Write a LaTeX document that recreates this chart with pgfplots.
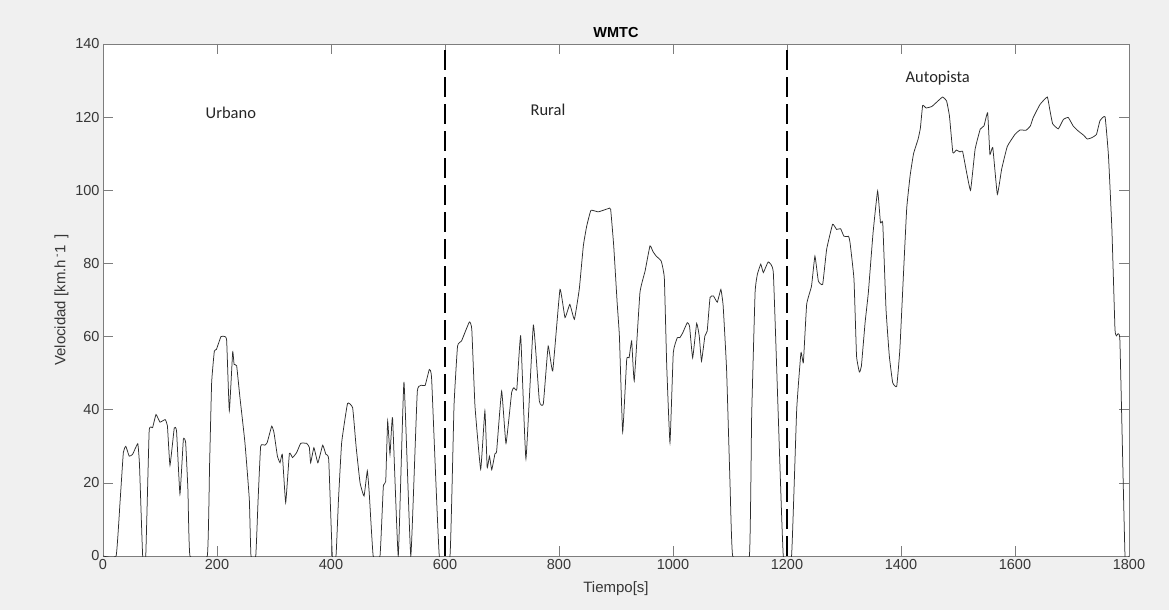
\documentclass[border=0pt]{standalone}
\usepackage{pgfplots}
\pgfplotsset{compat=1.18}
\usepackage{pgfplotstable}
\usepackage{fontspec}
\setmainfont{Liberation Sans}
\newfontfamily\calib{Carlito}
\definecolor{figbg}{RGB}{240,240,240}
\definecolor{axgray}{RGB}{125,125,125}
\definecolor{txtgray}{RGB}{55,55,55}
\definecolor{curve}{RGB}{45,45,45}
\pgfplotstableread{
t v
0 0
23 0
30 15
35.7 28.3
40 30
46 27.3
52 27.8
61 30.7
64 25
69.6 0
75 0
81 34.2
87 35.1
93 38.7
100 36.6
109 37.3
113 35.6
117.5 24.8
125 35
129 34.2
135 16.9
141 31.9
145 31
149 18
152.6 0
183 0
187 25
190.6 47.4
195.3 56
199 56.5
207 60
214 60
217 58.8
221.6 39.7
227.5 55.8
230 52.4
234.5 52
240 43.7
249 31
256.7 15.5
259.6 0
268 0
272 15
276.6 30
284 30.3
288 31
296 35.5
300 33.7
306 27.3
310.6 25.5
314.6 27.8
320.5 14.6
327 28
332.5 26.9
339.8 28.3
346.8 30.8
357.3 30.8
362 29.7
364.3 25.5
370 29.6
377 25.5
385.4 30.3
391 27.8
396 26.4
402.3 0
408.8 0
413 15
418.7 31
429 41.7
438 40.5
444 30
451 20
458 16.4
463.7 23.3
467 17.4
474 0
486 0
491.8 19
496 20.4
499.4 36.9
503.5 27.8
508 37.8
518 0
528 47.6
540 0
551.5 45.1
565 46.6
572.5 51
576.6 48.3
590 0
608.8 0
615.8 41
622 57.4
629 58.8
642.7 64
647 62
652.6 41
662.6 23.7
670 39.7
674 24.2
678 27.3
682 23.6
687.7 28
690.6 28.7
699.4 45.1
707 30.8
717 44.8
721 46
726 45.6
732.8 60.2
742 26.6
755 63.1
765.5 42.4
772.5 41.6
781 57.4
789 50.6
801.7 72.9
810.5 65.2
819 68.8
827 64.7
835.6 73
842.7 84.8
848.6 90.2
856 94.5
869 94.1
886.5 95
890.6 94.8
896 84.8
902 69.3
906 60
911.7 33.9
918.8 53.8
923 54.2
927.5 58.8
932 47.9
942 72
951 77.9
959.6 84.8
965 83.2
970.6 82
979.4 80.6
984.8 76
989 52
994.7 31
1000.5 55.6
1007.6 59.7
1012 59.7
1017 61
1025 63.8
1029 62.9
1034.5 54.2
1041.5 63.6
1046 60.2
1050 53.3
1056 60.2
1060 61.5
1065 70.7
1071 71.1
1077.7 69.4
1084 72.9
1088 68.4
1094 51
1100 20
1104.7 0
1134 0
1138 38.3
1144 72
1148 77
1154 79.8
1158.5 77.5
1167 80.4
1176 77.5
1184.7 38.3
1193.5 0
1208 0
1217 40
1224.5 55.6
1228.7 52.9
1234.5 68.8
1243 73.8
1249 82
1255 75.2
1262.6 74.3
1269.6 83.9
1280 90.7
1287 89.3
1294 89.5
1300 87.4
1308 87.4
1310.5 85.8
1317.5 75.7
1322 54.7
1327 50.3
1330.5 51.9
1337 63.8
1342.7 72
1351 88.4
1359 99.8
1364 91.1
1368 91
1373.7 67.5
1379.5 54.7
1385.4 47.4
1392.5 46.4
1398 56.5
1404 76
1410 95
1416 104
1422 110
1430 114
1434 117
1438 123.2
1444 122.5
1454 122.9
1462.6 124.1
1473 125.5
1480 124.4
1485 120.3
1491 110.3
1497 111
1503.5 110.5
1508 110.7
1514 105.8
1522 100
1530 111.2
1539 116.7
1545.6 117.6
1552 121.2
1556 109.8
1561 111.7
1569 98.9
1576.6 105.8
1586.5 112
1600 115.3
1609 116.5
1619.3 116.4
1627 117.6
1632 119.9
1644 123.5
1656.7 125.5
1661 122.1
1666 118.2
1676 116.8
1685 119.4
1693.5 119.9
1702 117.6
1711 116.2
1720 115.1
1727 114
1735 114.4
1743 115.3
1749 119
1758 120.1
1764 109.4
1770 89.3
1775.4 62
1778 60.2
1784 59
1793 0
1800 0
}\wmtc
\begin{document}
\begin{tikzpicture}[x=1pt,y=1pt]
\fill[figbg] (0,0) rectangle (1169,610);
\begin{axis}[
  at={(103pt,54pt)}, anchor=south west,
  scale only axis, width=1026pt, height=512pt,
  xmin=0, xmax=1800, ymin=0, ymax=140,
  xtick={0,200,...,1800}, ytick={0,20,...,140},
  tick align=inside, tick pos=both, major tick length=10pt,
  axis line style={axgray, line width=0.7pt},
  every tick/.style={axgray, line width=0.7pt},
  axis background/.style={fill=white},
  /pgf/number format/assume math mode=true,
  /pgf/number format/1000 sep={},
  ticklabel style={font=\fontsize{14.5}{16}\selectfont, text=txtgray},
  label style={font=\fontsize{15}{17}\selectfont, text=txtgray},
  xlabel={Tiempo[s]},
  xlabel style={yshift=-5pt},
  ylabel={Velocidad [km.h\,\textsuperscript{-}1\ \,]},
  title={WMTC},
  title style={font=\bfseries\fontsize{14.5}{16}\selectfont, anchor=base},
  clip=true,
]
\addplot[curve, line width=0.75pt, smooth, tension=0.2] table[x=t, y=v] {\wmtc};
\addplot[black, line width=2.2pt, dash pattern=on 20pt off 7pt] coordinates {(600,0) (600,140)};
\addplot[black, line width=2.2pt, dash pattern=on 20pt off 7pt] coordinates {(1200,0) (1200,140)};
\node[anchor=west, font=\calib\fontsize{16.5}{18}\selectfont, text=black!85] at (axis cs:174,121.3) {Urbano};
\node[anchor=west, font=\calib\fontsize{16.5}{18}\selectfont, text=black!85] at (axis cs:744,122.1) {Rural};
\node[anchor=west, font=\calib\fontsize{16.5}{18}\selectfont, text=black!85] at (axis cs:1402,130.6) {Autopista};
\end{axis}
\end{tikzpicture}
\end{document}
